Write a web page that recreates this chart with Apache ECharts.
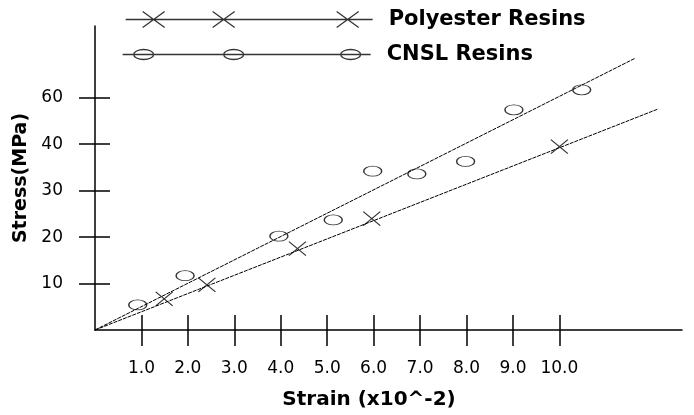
<!DOCTYPE html>
<html>
<head>
<meta charset="utf-8">
<script src="https://cdn.jsdelivr.net/npm/echarts@6/dist/echarts.min.js"></script>
<style>
  html, body { margin: 0; padding: 0; background: #fff; }
  #chart { width: 694px; height: 415px; }
</style>
</head>
<body>
<div id="chart"></div>
<script>
// strain (x10^-2) vs stress in axis units
const polyesterStrain = [1.49, 2.41, 4.36, 5.96, 10.0];
const polyesterStress = [6.7, 9.7, 17.5, 24.0, 39.5];
const cnslStrain = [0.92, 1.94, 3.96, 5.13, 5.98, 6.93, 7.98, 9.02, 10.48];
const cnslStress = [5.4, 11.7, 20.2, 23.7, 34.2, 33.6, 36.3, 47.4, 51.7];

// fitted straight lines (start, end)
const polyesterFit = [[0, 0], [12.13, 47.6]];
const cnslFit = [[0, 0], [11.63, 58.5]];

// ticks
const xTickValues = [1, 2, 3, 4, 5, 6, 7, 8, 9, 10];
const xTickLabels = ['1.0', '2.0', '3.0', '4.0', '5.0', '6.0', '7.0', '8.0', '9.0', '10.0'];
const yTickValues = [10, 20, 30, 40, 50];
const yTickLabels = ['10', '20', '30', '40', '60'];

const seriesNames = ['Polyester Resins', 'CNSL Resins'];

const X_MAX = 12.64;
const Y_MAX = 65.45;

const font = 'DejaVu Sans';
const ink = '#000';

// legend samples: line with three markers on it
function xIcon(centers) {
  let p = 'path://M0,8L247,8';
  centers.forEach((c) => {
    p += `M${c - 11},0L${c + 11},16M${c + 11},0L${c - 11},16`;
  });
  return p;
}
function ovalIcon(centers) {
  let p = 'path://M0,5L248,5';
  centers.forEach((c) => {
    p += `M${c - 10},5A10,5,0,1,1,${c + 10},5A10,5,0,1,1,${c - 10},5Z`;
  });
  return p;
}

const chart = echarts.init(document.getElementById('chart'), null, { renderer: 'canvas' });

const legendBase = {
  orient: 'vertical',
  padding: 0,
  symbolKeepAspect: false,
  itemStyle: { color: 'transparent', borderColor: ink, borderWidth: 1.3 },
  textStyle: { fontFamily: font, fontWeight: 'bold', fontSize: 21, color: ink, padding: [0, 0, 0, 11] },
  selectedMode: false,
};

chart.setOption({
  animation: false,
  backgroundColor: '#fff',
  grid: { left: 95, right: 12, top: 26, bottom: 84 },
  legend: [
    {
      ...legendBase,
      left: 125,
      top: 9,
      itemWidth: 247,
      itemHeight: 16,
      data: [{ name: seriesNames[0], icon: xIcon([28, 98, 222]) }],
    },
    {
      ...legendBase,
      left: 122,
      top: 44,
      itemWidth: 248,
      itemHeight: 10,
      data: [{ name: seriesNames[1], icon: ovalIcon([21, 111, 228]) }],
    },
  ],
  xAxis: [
    {
      type: 'value',
      min: 0,
      max: X_MAX,
      name: 'Strain (x10^-2)',
      nameLocation: 'middle',
      nameGap: 60,
      nameTextStyle: { fontFamily: font, fontWeight: 'bold', fontSize: 20, color: ink, padding: [0, 39, 0, 0] },
      axisLine: { lineStyle: { color: ink, width: 1.5 } },
      axisTick: { inside: false, length: 16, customValues: xTickValues, lineStyle: { color: ink, width: 1.5 } },
      axisLabel: {
        customValues: xTickValues,
        margin: 30,
        fontFamily: font,
        fontSize: 17,
        color: ink,
        formatter: (v) => xTickLabels[xTickValues.indexOf(v)] ?? '',
      },
      splitLine: { show: false },
    },
    {
      type: 'value',
      position: 'bottom',
      min: 0,
      max: X_MAX,
      axisLine: { show: false },
      axisTick: { inside: true, length: 15, customValues: xTickValues, lineStyle: { color: ink, width: 1.5 } },
      axisLabel: { show: false },
      splitLine: { show: false },
    },
  ],
  yAxis: [
    {
      type: 'value',
      min: 0,
      max: Y_MAX,
      name: 'Stress(MPa)',
      nameLocation: 'middle',
      nameGap: 59,
      nameTextStyle: { fontFamily: font, fontWeight: 'bold', fontSize: 19, color: ink },
      axisLine: { lineStyle: { color: ink, width: 1.5 } },
      axisTick: { inside: false, length: 16, customValues: yTickValues, lineStyle: { color: ink, width: 1.5 } },
      axisLabel: {
        customValues: yTickValues,
        margin: 32,
        fontFamily: font,
        fontSize: 17,
        color: ink,
        formatter: (v) => yTickLabels[yTickValues.indexOf(v)] ?? '',
      },
      splitLine: { show: false },
    },
    {
      type: 'value',
      position: 'left',
      min: 0,
      max: Y_MAX,
      axisLine: { show: false },
      axisTick: { inside: true, length: 15, customValues: yTickValues, lineStyle: { color: ink, width: 1.5 } },
      axisLabel: { show: false },
      splitLine: { show: false },
    },
  ],
  series: [
    {
      name: 'Polyester fit',
      type: 'line',
      data: polyesterFit,
      showSymbol: false,
      lineStyle: { color: ink, width: 1, type: [4, 1] },
    },
    {
      name: 'CNSL fit',
      type: 'line',
      data: cnslFit,
      showSymbol: false,
      lineStyle: { color: ink, width: 1, type: [4, 1] },
    },
    {
      name: seriesNames[0],
      type: 'scatter',
      data: polyesterStrain.map((x, i) => [x, polyesterStress[i]]),
      symbol: 'path://M0,0L17,14M17,0L0,14',
      symbolSize: [17, 14],
      itemStyle: { color: 'transparent', borderColor: ink, borderWidth: 1.1 },
      z: 3,
    },
    {
      name: seriesNames[1],
      type: 'scatter',
      data: cnslStrain.map((x, i) => [x, cnslStress[i]]),
      symbol: 'path://M0,5A9,5,0,1,1,18,5A9,5,0,1,1,0,5Z',
      symbolSize: [18, 10],
      itemStyle: { color: 'transparent', borderColor: ink, borderWidth: 1.1 },
      z: 3,
    },
  ],
});
</script>
</body>
</html>
